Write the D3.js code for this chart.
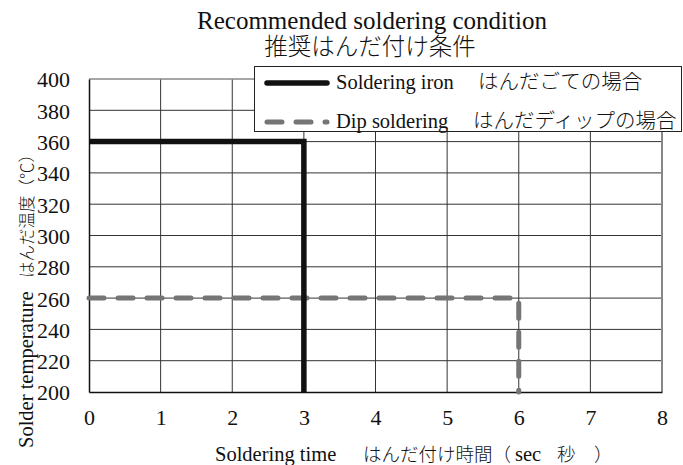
<!DOCTYPE html>
<html>
<head>
<meta charset="utf-8">
<script src="https://cdn.jsdelivr.net/npm/d3@7"></script>
<style>
  html, body { margin: 0; padding: 0; background: #fff; }
  svg text, svg tspan { fill: #111; }
  .lat { font-family: "Liberation Serif", "Times New Roman", serif; }
  .jp { font-family: "Noto Sans CJK JP", sans-serif; font-weight: 300; }
</style>
</head>
<body>
<svg id="chart" width="683" height="465"></svg>
<script>
// Soldering profiles: time (s) vs temperature (°C)
const ironTime = [0, 3, 3];
const ironTemp = [360, 360, 200];
const dipTime = [0, 6, 6];
const dipTemp = [260, 260, 200];

const xTicks = [0, 1, 2, 3, 4, 5, 6, 7, 8];
const yTicks = [200, 220, 240, 260, 280, 300, 320, 340, 360, 380, 400];

const titleLines = ["Recommended soldering condition", "推奨はんだ付け条件"];
const yTitle = ["Solder temperature", "はんだ温度（℃）"];
const seriesNames = [
  ["Soldering iron", "はんだごての場合"],
  ["Dip soldering", "はんだディップの場合"]
];
// x title pieces: [text, font class, x position, size]
const xTitleParts = [
  ["Soldering time", "lat", 215, 20.5],
  ["はんだ付け時間（", "jp", 363, 18.5],
  ["sec", "lat", 515, 20.5],
  ["秒\u2003）", "jp", 557, 18.5]
];

const svg = d3.select("#chart");
const plotL = 89, plotR = 662, plotT = 79, plotB = 392;

const x = d3.scaleLinear().domain([0, 8]).range([plotL, plotR]);
const y = d3.scaleLinear().domain([200, 400]).range([plotB, plotT]);

// grid
const grid = svg.append("g");
grid.selectAll(".gx").data(xTicks.slice(1, -1)).join("line")
  .attr("x1", d => x(d)).attr("x2", d => x(d))
  .attr("y1", plotT).attr("y2", plotB)
  .attr("stroke", "#333").attr("stroke-width", 1);
grid.selectAll(".gy").data(yTicks.slice(1, -1)).join("line")
  .attr("x1", plotL).attr("x2", plotR)
  .attr("y1", d => y(d)).attr("y2", d => y(d))
  .attr("stroke", "#333").attr("stroke-width", 1);

// top and right frame
svg.append("line").attr("x1", plotL).attr("x2", plotR).attr("y1", plotT).attr("y2", plotT)
  .attr("stroke", "#888").attr("stroke-width", 1.5);
svg.append("line").attr("x1", plotR).attr("x2", plotR).attr("y1", plotT).attr("y2", plotB)
  .attr("stroke", "#888").attr("stroke-width", 2);

// axes
const xAxis = svg.append("g").attr("transform", `translate(0,${plotB})`)
  .call(d3.axisBottom(x).tickValues(xTicks).tickSize(0).tickPadding(17).tickFormat(d3.format("d")));
const yAxis = svg.append("g").attr("transform", `translate(${plotL},0)`)
  .call(d3.axisLeft(y).tickValues(yTicks).tickSize(0).tickPadding(19).tickFormat(d3.format("d")));
[xAxis, yAxis].forEach(a => {
  a.select(".domain").attr("stroke", "#111").attr("stroke-width", 1.5);
  a.selectAll("text").attr("class", "lat")
    .style("font-family", '"Liberation Serif", serif').style("font-size", "22px").attr("fill", "#111");
});
yAxis.selectAll("text").attr("dy", "0.36em");

// series
const line = d3.line().x(d => x(d[0])).y(d => y(d[1]));
const ironPts = ironTime.map((t, i) => [t, ironTemp[i]]);
const dipPts = dipTime.map((t, i) => [t, dipTemp[i]]);

svg.append("path").attr("d", line(dipPts))
  .attr("fill", "none").attr("stroke", "#757575").attr("stroke-width", 5)
  .attr("stroke-dasharray", "15,14").attr("stroke-linecap", "round");
svg.append("path").attr("d", line(ironPts))
  .attr("fill", "none").attr("stroke", "#111").attr("stroke-width", 5.5)
  .attr("stroke-linejoin", "miter");

// titles
svg.append("text").attr("class", "lat").attr("x", 372).attr("y", 29).attr("text-anchor", "middle")
  .style("font-size", "25px").text(titleLines[0]);
svg.append("text").attr("class", "jp").attr("x", 370).attr("y", 55).attr("text-anchor", "middle")
  .style("font-size", "23.5px").text(titleLines[1]);

// x axis title
const xt = svg.append("text").attr("y", 461);
xt.selectAll("tspan").data(xTitleParts).join("tspan")
  .attr("class", d => d[1]).attr("x", d => d[2]).style("font-size", d => d[3] + "px").text(d => d[0]);

// y axis title (rotated, reading upward)
const yt = svg.append("text").attr("transform", "translate(33,448) rotate(-90)");
yt.append("tspan").attr("class", "lat").attr("x", 0).style("font-size", "20.5px").text(yTitle[0]);
yt.append("tspan").attr("class", "jp").attr("x", 170).style("font-size", "16.5px").text(yTitle[1]);

// legend
const lg = svg.append("g");
lg.append("rect").attr("x", 254.5).attr("y", 66.5).attr("width", 427).attr("height", 65)
  .attr("fill", "#fff").attr("stroke", "#222").attr("stroke-width", 1);
const legendRows = [
  { name: seriesNames[0], color: "#111", dash: null, y: 83, jx: 478 },
  { name: seriesNames[1], color: "#757575", dash: "15,14", y: 122, jx: 473 }
];
legendRows.forEach(r => {
  const l = lg.append("line").attr("x1", 267).attr("x2", 327).attr("y1", r.y).attr("y2", r.y)
    .attr("stroke", r.color).attr("stroke-width", 5.5).attr("stroke-linecap", "round");
  if (r.dash) l.attr("stroke-dasharray", r.dash).attr("stroke-width", 5);
  const t = lg.append("text").attr("y", r.y + 6).style("font-size", "20.5px");
  t.append("tspan").attr("class", "lat").attr("x", 336).text(r.name[0]);
  t.append("tspan").attr("class", "jp").attr("x", r.jx).text(r.name[1]);
});
</script>
</body>
</html>
